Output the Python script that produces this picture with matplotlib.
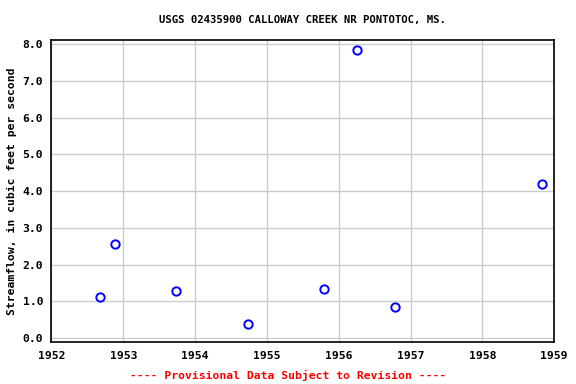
import matplotlib
matplotlib.use("Agg")
import matplotlib.pyplot as plt

years = [1952.68, 1952.89, 1953.74, 1954.74, 1955.80, 1956.25, 1956.78, 1958.83]
flows = [1.12, 2.56, 1.28, 0.39, 1.34, 7.84, 0.85, 4.18]
x_ticks = [1952, 1953, 1954, 1955, 1956, 1957, 1958, 1959]
y_ticks = [0.0, 1.0, 2.0, 3.0, 4.0, 5.0, 6.0, 7.0, 8.0]
title = "USGS 02435900 CALLOWAY CREEK NR PONTOTOC, MS."
ylabel = "Streamflow, in cubic feet per second"
footer = "---- Provisional Data Subject to Revision ----"

plt.rcParams['font.family'] = ['DejaVu Sans Mono']
plt.rcParams['font.weight'] = 'bold'

fig = plt.figure(figsize=(5.76, 3.84), dpi=100)
ax = fig.add_axes([0.0894, 0.1086, 0.8726, 0.7874])
ax.plot(years, flows, linestyle='none', marker='o', markersize=6,
        markerfacecolor='none', markeredgecolor='#0000ff', markeredgewidth=1.4, zorder=3)
ax.set_xlim(1952, 1959)
ax.set_ylim(-0.11, 8.11)
ax.set_xticks(x_ticks)
ax.set_xticklabels([str(t) for t in x_ticks], fontsize=8.2, fontweight='bold')
ax.set_yticks(y_ticks)
ax.set_yticklabels([f"{t:.1f}" for t in y_ticks], fontsize=8.2, fontweight='bold')
ax.tick_params(length=0, pad=6)
ax.grid(True, color='#cccccc', linewidth=1)
ax.set_axisbelow(True)
for s in ax.spines.values():
    s.set_linewidth(1.2)
    s.set_color('black')
ax.set_title(title, fontsize=7.7, fontweight='bold', pad=12)
ax.set_ylabel(ylabel, fontsize=8.2, fontweight='bold')
ax.yaxis.set_label_coords(-0.068, 0.5)
fig.text(0.5, 0.023, footer, ha='center', va='center', color='red', fontsize=8.2, fontweight='bold')
fig.savefig('out.png', dpi=100)
